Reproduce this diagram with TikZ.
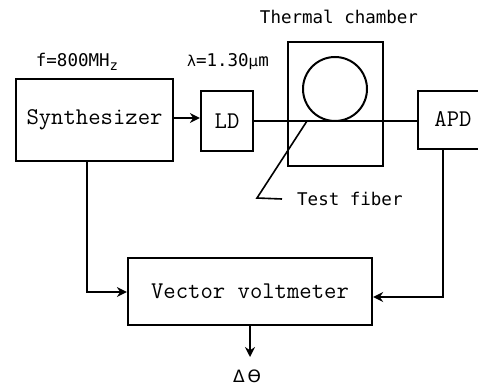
\documentclass[tikz,border=0pt]{standalone}
\usepackage{fontspec}
\newfontfamily\lblfont{DejaVu Sans Mono}
\newfontfamily\symfont{DejaVu Sans}
\usetikzlibrary{arrows.meta}
\begin{document}
\begin{tikzpicture}[x=1pt,y=-1pt,
  blk/.style={draw,line width=2.2pt,rectangle,inner sep=0pt,font=\ttfamily\fontsize{24}{26}\selectfont},
  wire/.style={line width=2.2pt},
  arr/.style={wire,-{Stealth[length=10pt,width=10pt]}},
  lbl/.style={font=\lblfont\fontsize{17.5}{20}\selectfont,inner sep=0pt}]
\useasboundingbox (0,0) rectangle (478,387);
\clip (0,0) rectangle (478,387);
\node[blk,minimum width=157pt,minimum height=82pt] (syn) at (94.5,120) {Synthesizer};
\node[blk,minimum width=52pt,minimum height=60pt] (ld) at (227,121) {LD};
\node[draw,line width=2.2pt,minimum width=95pt,minimum height=124pt,inner sep=0pt] (ch) at (335.5,104) {};
\node[draw,line width=2pt,circle,minimum size=64pt,inner sep=0pt] (coil) at (335,89) {};
\node[blk,minimum width=86pt,minimum height=58pt] (apd) at (461,120) {};
\node[font=\ttfamily\fontsize{24}{26}\selectfont,inner sep=0pt] (apdt) at (453,119) {APD};
\node[blk,minimum width=244pt,minimum height=67pt] (vv) at (250,291.5) {Vector voltmeter};
% labels
\node[lbl] (f) at (77,62) {f=800MH\raisebox{-0.35ex}{\fontsize{14}{16}\selectfont z}};
\node[lbl] (lam) at (228,62) {\symfont\fontsize{15}{17}\selectfont λ\lblfont\fontsize{17.5}{20}\selectfont=1.30\symfont\fontsize{15}{17}\selectfont μ\lblfont\fontsize{17.5}{20}\selectfont m};
\node[lbl] (tc) at (339,17) {Thermal chamber};
\node[lbl,anchor=west] (tf) at (297,199) {Test fiber};
\node[inner sep=0pt,font=\symfont\fontsize{17}{20}\selectfont] (dt) at (247,376) {Δ\,ϴ};
% connectors
\draw[arr] (syn.east |- 0,118) -- (ld.west |- 0,118);
\draw[wire] (ld.east |- 0,121) -- (apd.west |- 0,121);
\coordinate (tfa) at (307,121);
\coordinate (tfb) at (257,198);
\draw[line width=1.6pt] (tfa) -- (tfb) -- (tf.west -| 282,198);
\draw[arr] (syn.south -| 87,0) |- (vv.west |- 0,292);
\draw[arr] (apd.south -| 443,0) |- (vv.east |- 0,297);
\coordinate (out) at (250,357);
\draw[arr] (vv.south) -- (out);
\end{tikzpicture}
\end{document}
